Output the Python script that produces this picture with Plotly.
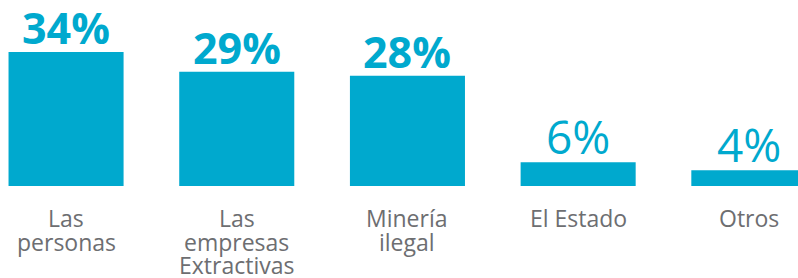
import plotly.graph_objects as go

categories = ["Las personas", "Las empresas Extractivas", "Minería ilegal", "El Estado", "Otros"]
label_lines = [["Las", "personas"], ["Las", "empresas", "Extractivas"], ["Minería", "ilegal"], ["El Estado"], ["Otros"]]
values = [34, 29, 28, 6, 4]
value_labels = ["34%", "29%", "28%", "6%", "4%"]
bold_flags = [True, True, True, False, False]

BAR = "#00A9CE"
GRAY = "#6D6E71"
FONT = "Open Sans"

fig = go.Figure()
fig.add_trace(go.Bar(x=categories, y=values, marker_color=BAR, marker_line_width=0,
                     hoverinfo="skip"))

annotations = []
for cat, v, lab, b in zip(categories, values, value_labels, bold_flags):
    annotations.append(dict(
        x=cat, y=v, xref="x", yref="y", text=f"<b>{lab}</b>" if b else lab,
        showarrow=False, yanchor="bottom", xanchor="center", yshift=-7,
        font=dict(family=FONT, size=43 if b else 46, color=BAR)))
for cat, lines in zip(categories, label_lines):
    for i, line in enumerate(lines):
        annotations.append(dict(
            x=cat, y=0, xref="x", yref="y", text=line, showarrow=False,
            yanchor="top", xanchor="center", yshift=-14 - 23.5 * i,
            font=dict(family=FONT, size=23, color=GRAY)))

fig.update_layout(
    width=798, height=278,
    margin=dict(l=0, r=0, t=0, b=92),
    paper_bgcolor="white", plot_bgcolor="white",
    bargap=0.326, showlegend=False,
    annotations=annotations,
    font=dict(family=FONT),
)
fig.update_xaxes(range=[-0.387, 4.288], showticklabels=False, showgrid=False,
                 zeroline=False, showline=False, ticks="")
fig.update_yaxes(range=[0, 47.2], visible=False)

fig.write_html("out.html", config={"displayModeBar": False, "staticPlot": True},
               post_script="document.body.style.margin='0';document.body.style.overflow='hidden';")
